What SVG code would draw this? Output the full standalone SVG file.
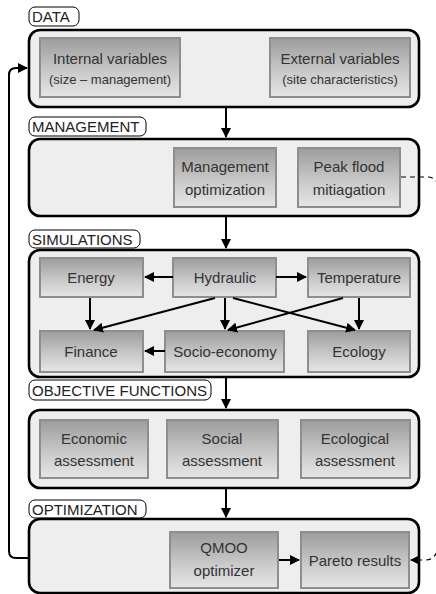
<svg xmlns="http://www.w3.org/2000/svg" width="436" height="594" viewBox="0 0 436 594">
<style>
.outer{fill:#eeeeee;stroke:#000;stroke-width:2.6}
.inner{fill:url(#g);stroke:#8e8e8e;stroke-width:2}
.lbl{fill:#fff;stroke:#000;stroke-width:1}
text{font-family:"Liberation Sans",Arial,sans-serif;fill:#333;text-anchor:middle}
.t{font-size:15px}
.s{font-size:13px}
.h{font-size:15px;text-anchor:start;fill:#222}
.c{fill:none;stroke:#000;stroke-width:2}
.d{fill:none;stroke:#000;stroke-width:1.2;stroke-dasharray:5 4}
</style>
<defs>
<linearGradient id="g" x1="0" y1="0" x2="0" y2="1">
<stop offset="0" stop-color="#9c9c9c"/>
<stop offset="0.55" stop-color="#c8c8c8"/>
<stop offset="1" stop-color="#e6e6e6"/>
</linearGradient>
<marker id="a" viewBox="0 0 10 10" refX="9" refY="5" markerWidth="5" markerHeight="5" orient="auto" markerUnits="strokeWidth">
<path d="M0,0 L10,5 L0,10 z" fill="#000"/>
</marker>
</defs>

<g id="data">
<rect class="lbl" x="29" y="7" width="50" height="19" rx="6"/>
<text class="h" x="32" y="22">DATA</text>
<rect class="outer" x="29" y="30" width="390" height="77" rx="11"/>
</g>
<g id="internal">
<rect class="inner" x="40" y="38" width="140" height="59"/>
<text class="t" x="110" y="64">Internal variables</text>
<text class="s" x="110" y="84">(size – management)</text>
</g>
<g id="external">
<rect class="inner" x="270" y="38" width="140" height="59"/>
<text class="t" x="340" y="64">External variables</text>
<text class="s" x="340" y="84">(site characteristics)</text>
</g>

<g id="management">
<rect class="lbl" x="29" y="117" width="117" height="19" rx="6"/>
<text class="h" x="32" y="132">MANAGEMENT</text>
<rect class="outer" x="29" y="139" width="390" height="77" rx="11"/>
</g>
<g id="mgmt-opt">
<rect class="inner" x="174" y="148" width="102" height="59"/>
<text class="t" x="225" y="172">Management</text>
<text class="t" x="225" y="195">optimization</text>
</g>
<g id="peak-flood">
<rect class="inner" x="298" y="148" width="102" height="59"/>
<text class="t" x="349" y="172">Peak flood</text>
<text class="t" x="349" y="195">mitiagation</text>
</g>

<g id="simulations">
<rect class="lbl" x="29" y="230" width="111" height="18" rx="6"/>
<text class="h" x="32" y="245">SIMULATIONS</text>
<rect class="outer" x="29" y="250" width="390" height="127" rx="11"/>
</g>
<g id="energy">
<rect class="inner" x="40" y="258" width="103" height="39"/>
<text class="t" x="91" y="283">Energy</text>
</g>
<g id="hydraulic">
<rect class="inner" x="173" y="258" width="103" height="39"/>
<text class="t" x="225" y="283">Hydraulic</text>
</g>
<g id="temperature">
<rect class="inner" x="308" y="258" width="102" height="39"/>
<text class="t" x="359" y="283">Temperature</text>
</g>
<g id="finance">
<rect class="inner" x="40" y="331" width="103" height="41"/>
<text class="t" x="91" y="357">Finance</text>
</g>
<g id="socio-economy">
<rect class="inner" x="165" y="331" width="119" height="41"/>
<text class="t" x="225" y="357">Socio-economy</text>
</g>
<g id="ecology">
<rect class="inner" x="308" y="331" width="102" height="41"/>
<text class="t" x="359" y="357">Ecology</text>
</g>

<g id="objective-functions">
<rect class="lbl" x="29" y="380" width="182" height="20" rx="6"/>
<text class="h" x="32" y="396">OBJECTIVE FUNCTIONS</text>
<rect class="outer" x="29" y="410" width="390" height="78" rx="11"/>
</g>
<g id="economic">
<rect class="inner" x="40" y="420" width="108" height="58"/>
<text class="t" x="94" y="444">Economic</text>
<text class="t" x="94" y="466">assessment</text>
</g>
<g id="social">
<rect class="inner" x="167" y="420" width="111" height="58"/>
<text class="t" x="222" y="444">Social</text>
<text class="t" x="222" y="466">assessment</text>
</g>
<g id="ecological">
<rect class="inner" x="301" y="420" width="109" height="58"/>
<text class="t" x="355" y="444">Ecological</text>
<text class="t" x="355" y="466">assessment</text>
</g>

<g id="optimization">
<rect class="lbl" x="29" y="500" width="117" height="18" rx="6"/>
<text class="h" x="32" y="515">OPTIMIZATION</text>
<rect class="outer" x="29" y="519" width="390" height="74" rx="11"/>
</g>
<g id="qmoo">
<rect class="inner" x="170" y="532" width="108" height="56"/>
<text class="t" x="224" y="553">QMOO</text>
<text class="t" x="224" y="576">optimizer</text>
</g>
<g id="pareto">
<rect class="inner" x="301" y="532" width="108" height="56"/>
<text class="t" x="355" y="566">Pareto results</text>
</g>

<g id="connectors">
<path class="c" d="M226,108 V137" marker-end="url(#a)"/>
<path class="c" d="M226,217 V248" marker-end="url(#a)"/>
<path class="c" d="M226,378 V408" marker-end="url(#a)"/>
<path class="c" d="M226,489 V517" marker-end="url(#a)"/>
<path class="c" d="M173,277 H145" marker-end="url(#a)"/>
<path class="c" d="M276,277 H306" marker-end="url(#a)"/>
<path class="c" d="M90,298 V329" marker-end="url(#a)"/>
<path class="c" d="M225,298 V329" marker-end="url(#a)"/>
<path class="c" d="M359,298 V329" marker-end="url(#a)"/>
<path class="c" d="M215,298 L94,330" marker-end="url(#a)"/>
<path class="c" d="M233,298 L355,330" marker-end="url(#a)"/>
<path class="c" d="M343,298 L228,330" marker-end="url(#a)"/>
<path class="c" d="M165,351 H145" marker-end="url(#a)"/>
<path class="c" d="M279,560 H299" marker-end="url(#a)"/>
<path class="c" d="M28,558 H16 Q9,558 9,551 V75 Q9,68 16,68 H27" marker-end="url(#a)"/>
<path class="d" d="M401,177 H428 Q433,177 437,182"/>
<path class="d" d="M437,552 Q433,560 426,560 H418"/>
<path class="c" d="M419,560 H411" marker-end="url(#a)"/>
</g>
</svg>
